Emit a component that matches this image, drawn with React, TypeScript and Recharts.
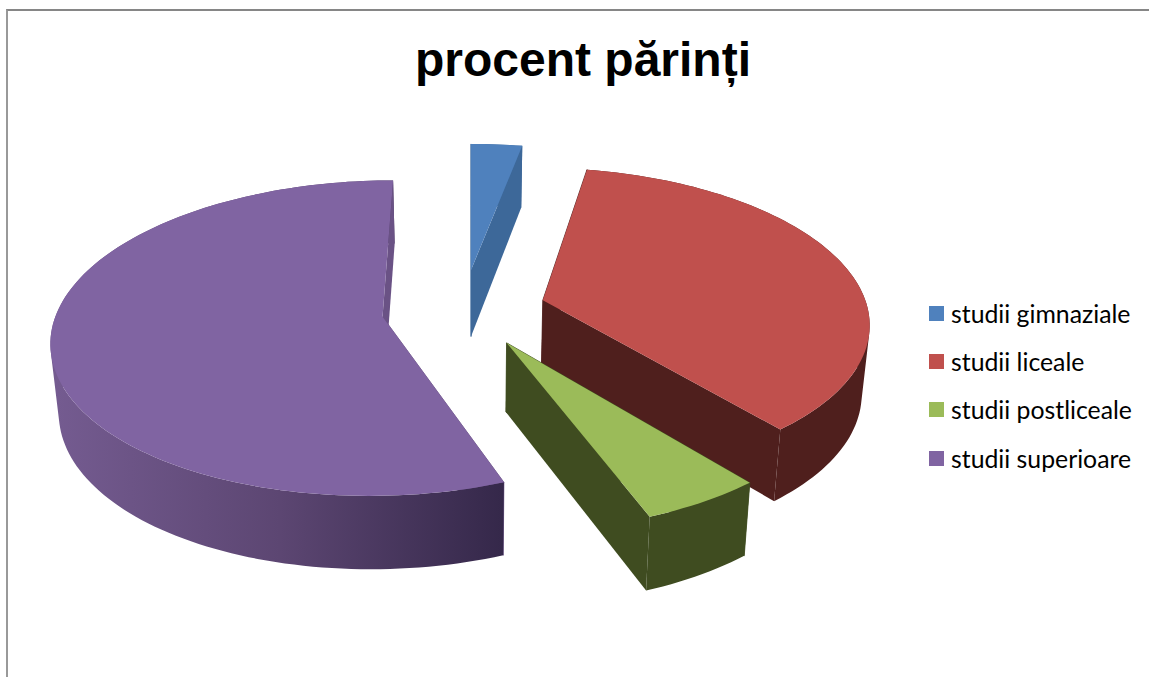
import React from "react";
import { PieChart, Pie, Legend } from "recharts";

const TITLE = "procent părinți";
const CATEGORIES = ["studii gimnaziale", "studii liceale", "studii postliceale", "studii superioare"];
const VALUES = [2.95, 36.05, 5.17, 55.83];

const TOP_COLORS = ["#4f81bd", "#c0504d", "#9bbb59", "#8064a2"];
const SIDE_COLORS = ["#3d6899", "#4f1f1d", "#3f4c20", "url(#purpleSide)"];
const RADIAL_COLORS = ["#3d6899", "#4f1f1d", "#3f4c20", "#6a5285"];
const EXPLODE = [0.265, 0.23, 0.24, 0.275];
const EXPLODE_TURN = [-5.3, 0, 4, 0];

const TILT = 0.47;
const PERSPECTIVE = 0.135;
const DEPTH = 68;
const DEPTH_PERSPECTIVE = 0.075;
const BOTTOM_SCALE = 0.98;

const table = CATEGORIES.map((name, i) => ({
  name,
  value: VALUES[i],
  fill: TOP_COLORS[i],
  side: SIDE_COLORS[i],
  radial: RADIAL_COLORS[i],
  explode: EXPLODE[i],
  turn: EXPLODE_TURN[i],
}));

function Wedge3D(props: any) {
  const { cx, cy, outerRadius, startAngle, endAngle, fill } = props;
  const src = props.payload ?? props;
  const side = props.side ?? src.side;
  const radial = props.radial ?? src.radial;
  const explode = props.explode ?? src.explode;
  const turn = props.turn ?? src.turn ?? 0;
  const rad = Math.PI / 180;
  const a0 = (90 - startAngle) * rad;
  const a1 = (90 - endAngle) * rad;
  const mid = (a0 + a1) / 2 + turn * rad;
  const du = explode * Math.sin(mid);
  const dv = -explode * Math.cos(mid);
  const A = outerRadius;
  const B = outerRadius * TILT;
  const top = (u: number, v: number) => {
    const w = 1 / (1 - PERSPECTIVE * v);
    return [cx + A * u * w, cy + B * v * w];
  };
  const low = (u: number, v: number) => {
    const [x, y] = top(u, v);
    return [cx + (x - cx) * BOTTOM_SCALE, y + DEPTH * (1 + DEPTH_PERSPECTIVE * v)];
  };
  const steps = Math.max(4, Math.ceil(Math.abs(a1 - a0) / (1.5 * rad)));
  const arc = (fn: (u: number, v: number) => number[]) => {
    const out: number[][] = [];
    for (let i = 0; i <= steps; i++) {
      const t = a0 + ((a1 - a0) * i) / steps;
      out.push(fn(du + Math.sin(t), dv - Math.cos(t)));
    }
    return out;
  };
  const d = (pts: number[][]) =>
    "M" + pts.map((p) => `${p[0].toFixed(2)},${p[1].toFixed(2)}`).join("L") + "Z";
  // One wound-alike quad per step, joined in a single path, so no seams show.
  const quad = (pts: number[][]) => {
    let area = 0;
    pts.forEach((p, i) => {
      const q = pts[(i + 1) % pts.length];
      area += p[0] * q[1] - q[0] * p[1];
    });
    return d(area >= 0 ? pts : [...pts].reverse());
  };
  const topArc = arc(top);
  const lowArc = arc(low);
  const apexT = top(du, dv);
  const apexL = low(du, dv);
  const last = topArc.length - 1;
  const wall = topArc
    .slice(0, last)
    .map((p, i) => quad([p, topArc[i + 1], lowArc[i + 1], lowArc[i]]))
    .join("");
  return (
    <g>
      <path d={d([apexT, topArc[0], lowArc[0], apexL])} fill={radial} stroke={radial} strokeWidth={0.8} />
      <path d={wall} fill={side} fillRule="nonzero" />
      <path d={d([apexT, topArc[last], lowArc[last], apexL])} fill={radial} />
      <path d={d([apexT, ...topArc])} fill={fill} stroke="none" />
    </g>
  );
}

function LegendBox({ payload }: any) {
  return (
    <div style={{ fontFamily: "Lato, sans-serif", fontSize: 24.8, color: "#000" }}>
      {(payload ?? []).map((item: any) => (
        <div key={item.value} style={{ display: "flex", alignItems: "center", height: 48.3, whiteSpace: "nowrap" }}>
          <span style={{ display: "inline-block", width: 15, height: 15, background: item.color, marginRight: 7 }} />
          <span>{item.value}</span>
        </div>
      ))}
    </div>
  );
}

export default function App() {
  return (
    <div style={{ position: "absolute", left: 0, top: 0, width: 1149, height: 677, overflow: "hidden", background: "#fff" }}>
      <div
        style={{
          position: "absolute",
          left: 6,
          top: 9,
          width: 1143,
          height: 668,
          boxSizing: "border-box",
          borderLeft: "2px solid #999",
          borderTop: "2px solid #868686",
        }}
      />
      <div style={{ position: "absolute", left: 0, top: 0 }}>
        <PieChart width={1149} height={677} margin={{ top: 0, right: 0, bottom: 0, left: 0 }}>
          <defs>
            <linearGradient id="purpleSide" gradientUnits="userSpaceOnUse" x1={57} y1={0} x2={503} y2={0}>
              <stop offset="0%" stopColor="#745b90" />
              <stop offset="50%" stopColor="#5c4672" />
              <stop offset="100%" stopColor="#35284a" />
            </linearGradient>
          </defs>
          <text
            x={583}
            y={76}
            textAnchor="middle"
            style={{ fontFamily: "'Liberation Sans', Arial, sans-serif", fontWeight: 700, fontSize: 48, fill: "#000" }}
          >
            {TITLE}
          </text>
          <Pie
            data={table}
            dataKey="value"
            nameKey="name"
            cx={471}
            cy={309}
            innerRadius={0}
            outerRadius={325}
            startAngle={90}
            endAngle={-270}
            stroke="none"
            isAnimationActive={false}
            shape={Wedge3D}
          />
          <Legend
            layout="vertical"
            align="right"
            verticalAlign="top"
            content={<LegendBox />}
            wrapperStyle={{ left: 929, top: 289, width: 215, right: "auto" }}
          />
        </PieChart>
      </div>
    </div>
  );
}
